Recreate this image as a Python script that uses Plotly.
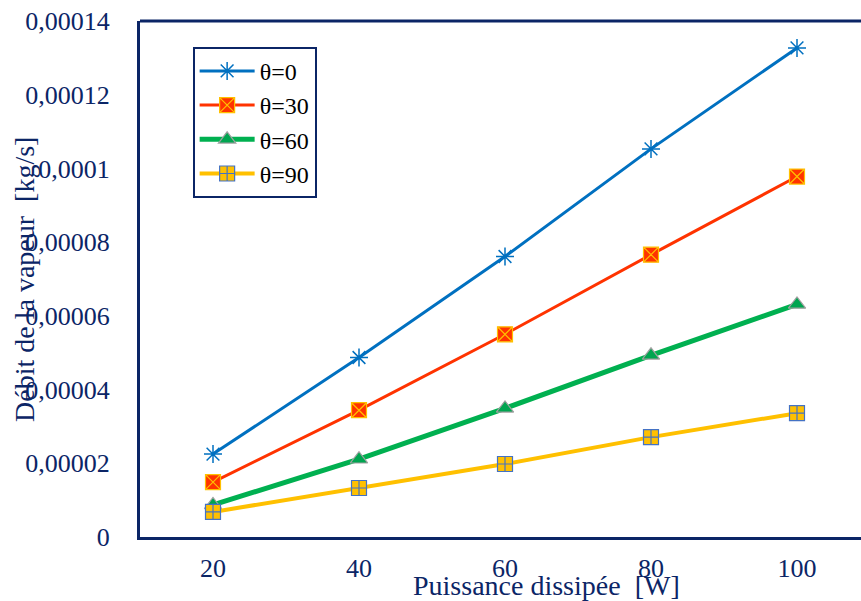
import plotly.graph_objects as go

# Dissipated power [W]
puissance = [20, 40, 60, 80, 100]

# Vapour mass flow rate [kg/s] for each inclination angle
debit_theta0 = [2.25e-5, 4.87e-5, 7.61e-5, 1.053e-4, 1.327e-4]
debit_theta30 = [1.49e-5, 3.44e-5, 5.50e-5, 7.66e-5, 9.78e-5]
debit_theta60 = [8.7e-6, 2.11e-5, 3.49e-5, 4.93e-5, 6.31e-5]
debit_theta90 = [6.8e-6, 1.33e-5, 1.98e-5, 2.71e-5, 3.36e-5]

y_ticks = [0, 2e-5, 4e-5, 6e-5, 8e-5, 1e-4, 1.2e-4, 1.4e-4]
y_tick_text = ["0", "0,00002", "0,00004", "0,00006", "0,00008",
               "0,0001", "0,00012", "0,00014"]
x_ticks = [20, 40, 60, 80, 100]

NAVY = "#0B2566"
SERIF = "Liberation Serif"

fig = go.Figure()

fig.add_trace(go.Scatter(
    x=puissance, y=debit_theta0, name="θ=0", mode="lines+markers",
    line=dict(color="#0070C0", width=3),
    marker=dict(symbol="asterisk-open", size=15,
                line=dict(color="#5B9BD5", width=1.5)),
))
fig.add_trace(go.Scatter(
    x=puissance, y=debit_theta30, name="θ=30", mode="lines+markers",
    line=dict(color="#FF3300", width=3),
    marker=dict(symbol="square-x", size=15, color="#FF3300",
                line=dict(color="#FFC000", width=1.2)),
))
fig.add_trace(go.Scatter(
    x=puissance, y=debit_theta60, name="θ=60", mode="lines+markers",
    line=dict(color="#00B050", width=5),
    marker=dict(symbol="triangle-up", size=15, color="#00A550",
                line=dict(color="#A0A0A0", width=1.2)),
))
fig.add_trace(go.Scatter(
    x=puissance, y=debit_theta90, name="θ=90", mode="lines+markers",
    line=dict(color="#FFC000", width=4),
    marker=dict(symbol="square-cross", size=15, color="#FFC000",
                line=dict(color="#4472C4", width=1.2)),
))

fig.update_layout(
    width=861, height=601,
    margin=dict(l=140, r=0, t=21, b=64),
    paper_bgcolor="white", plot_bgcolor="white",
    font=dict(family=SERIF, size=26, color=NAVY),
    showlegend=True,
    legend=dict(
        x=0.073, y=0.95, xanchor="left", yanchor="top",
        bordercolor=NAVY, borderwidth=2, bgcolor="white",
        font=dict(family=SERIF, size=24, color="black"),
        itemwidth=55, tracegroupgap=0,
    ),
    xaxis=dict(
        range=[10, 10 + 721 / 7.3],
        tickmode="array", tickvals=x_ticks,
        ticks="", showgrid=False, zeroline=False,
        showline=True, linecolor=NAVY, linewidth=3,
        tickfont=dict(family=SERIF, size=26, color=NAVY),
        ticklabelstandoff=6,
    ),
    yaxis=dict(
        range=[0, 1.4e-4],
        tickmode="array", tickvals=y_ticks, ticktext=y_tick_text,
        ticks="", showgrid=False, zeroline=False,
        showline=True, linecolor=NAVY, linewidth=3,
        mirror=False,
        tickfont=dict(family=SERIF, size=26, color=NAVY),
        ticklabelstandoff=22,
    ),
    shapes=[dict(type="line", xref="paper", yref="paper",
                 x0=0, x1=1, y0=1, y1=1,
                 line=dict(color=NAVY, width=3))],
    annotations=[
        dict(text="Débit de la vapeur  [kg/s]", xref="paper", yref="paper",
             x=-0.161, y=0.5, textangle=-90, showarrow=False,
             xanchor="center", yanchor="middle",
             font=dict(family=SERIF, size=28, color=NAVY)),
        dict(text="Puissance dissipée  [W]", xref="paper", yref="paper",
             x=0.564, y=-0.094, showarrow=False,
             xanchor="center", yanchor="middle",
             font=dict(family=SERIF, size=28, color=NAVY)),
    ],
)

fig.write_html("out.html")
